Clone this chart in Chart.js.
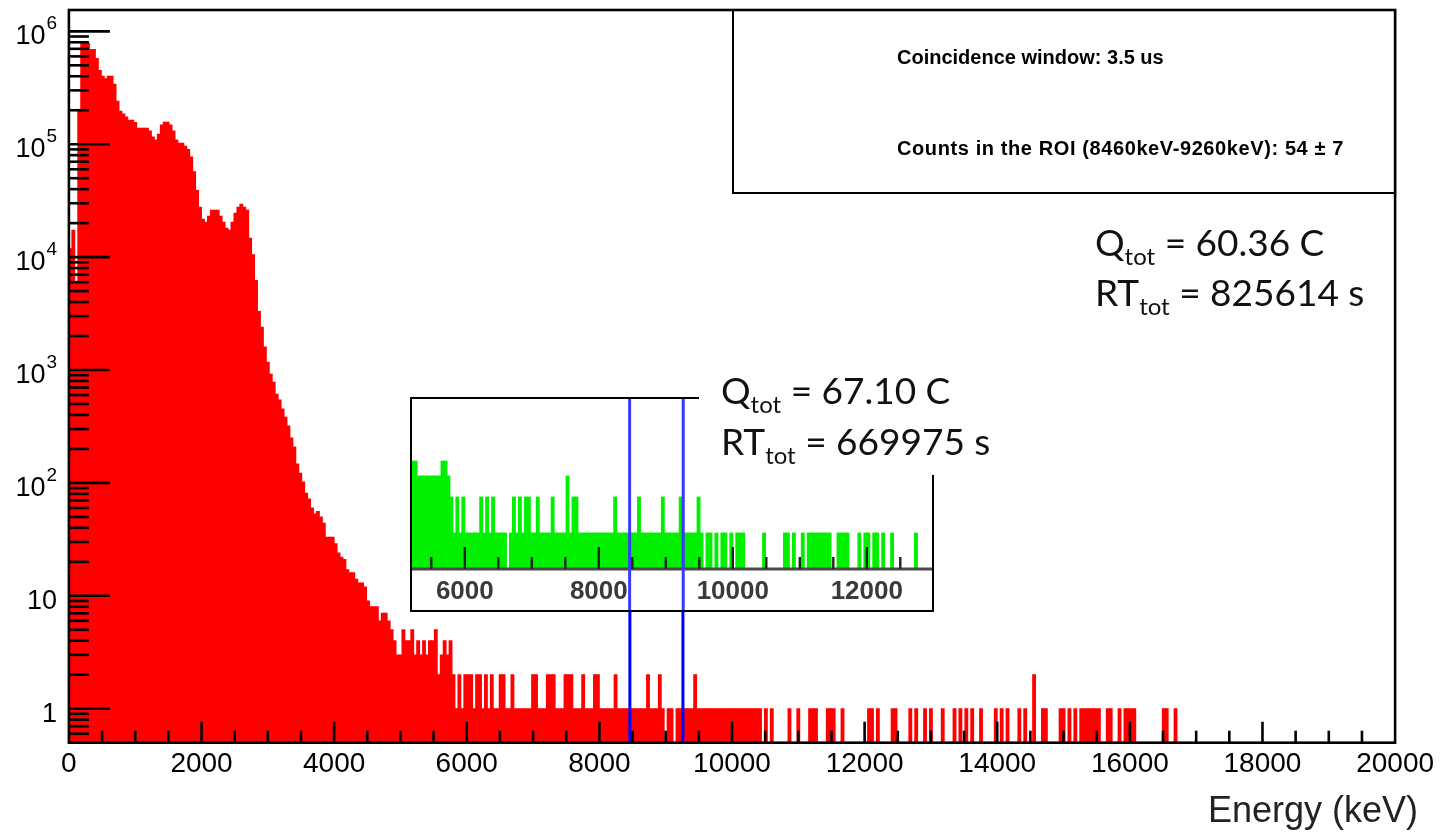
<!DOCTYPE html>
<html>
<head>
<meta charset="utf-8">
<title>Energy spectrum</title>
<script src="https://cdn.jsdelivr.net/npm/chart.js@4.4.1/dist/chart.umd.min.js"></script>
<style>
  html, body { margin: 0; padding: 0; background: #fff; }
  #wrap { position: relative; width: 1443px; height: 832px; overflow: hidden; }
  #main { position: absolute; left: 0; top: 0; }
  #inset { position: absolute; left: 405px; top: 360px; }
</style>
</head>
<body>
<div id="wrap">
  <canvas id="main" width="1443" height="832"></canvas>
  <canvas id="inset" width="600" height="260"></canvas>
</div>
<script>
// histogram: 450 bins from 0 to 20000 keV
const BIN_KEV = 20000 / 450;

// counts per bin, bins 0..119
const countsLow = [
  11900, 17300, 6000, 200000, 780000, 780000, 780000, 690000, 690000, 576000,
  450000, 400000, 380000, 400000, 400000, 340000, 240000, 196000, 185000, 174000,
  163000, 163000, 156000, 139000, 139000, 139000, 139000, 131000, 116000, 109000,
  123000, 148000, 157000, 157000, 148000, 131000, 109000, 102000, 102000, 96000,
  90000, 77000, 57000, 39000, 27700, 21700, 20400, 23000, 26000, 26000,
  26000, 23000, 20400, 18000, 17300, 20400, 24500, 27700, 29500, 27700,
  26000, 14700, 10500, 6200, 3300, 2400, 1600, 1175, 920, 780,
  612, 542, 451, 383, 319, 250, 208, 147, 122, 102,
  81, 72, 60, 53, 56, 50, 44, 33, 33, 33,
  29, 24, 22, 21, 17, 16, 16, 14, 13, 13,
  12, 9, 8, 8, 8, 6, 7, 7, 6, 5,
  4, 3, 3, 5, 4, 4, 5, 3, 4, 3
];

// counts per bin, bins 120..449
const countsTail = [
  4, 3, 4, 4, 5, 2, 3, 4, 3, 4,
  2, 1, 2, 1, 2, 2, 2, 1, 2, 2,
  1, 2, 1, 2, 1, 1, 2, 2, 1, 1,
  2, 1, 1, 1, 1, 1, 1, 2, 2, 1,
  1, 1, 2, 2, 2, 1, 1, 1, 2, 2,
  2, 1, 1, 1, 2, 1, 1, 1, 2, 2,
  1, 1, 1, 1, 1, 2, 1, 1, 1, 1,
  1, 1, 1, 1, 1, 1, 2, 1, 1, 1,
  2, 1, 0, 1, 1, 0, 1, 1, 1, 1,
  1, 1, 2, 1, 1, 1, 1, 1, 1, 1,
  1, 1, 1, 1, 1, 1, 1, 1, 1, 1,
  1, 1, 1, 1, 1, 0, 1, 0, 1, 0,
  0, 0, 0, 0, 1, 0, 0, 1, 0, 0,
  0, 1, 1, 1, 0, 0, 0, 1, 1, 1,
  0, 0, 1, 0, 0, 0, 0, 0, 0, 0,
  0, 1, 1, 0, 1, 0, 0, 0, 0, 1,
  1, 0, 0, 0, 0, 1, 0, 1, 0, 0,
  1, 0, 1, 0, 0, 0, 1, 0, 0, 0,
  1, 0, 1, 0, 1, 0, 1, 0, 0, 1,
  0, 0, 0, 0, 1, 0, 1, 0, 1, 0,
  0, 0, 1, 0, 1, 0, 0, 2, 0, 0,
  1, 1, 0, 0, 0, 0, 1, 1, 0, 1,
  0, 1, 0, 1, 1, 1, 1, 1, 1, 1,
  0, 0, 1, 1, 0, 0, 1, 0, 1, 1,
  1, 1, 0, 0, 0, 0, 0, 0, 0, 0,
  0, 1, 1, 0, 0, 1, 0, 0, 0, 0,
  0, 0, 0, 0, 0, 0, 0, 0, 0, 0,
  0, 0, 0, 0, 0, 0, 0, 0, 0, 0,
  0, 0, 0, 0, 0, 0, 0, 0, 0, 0,
  0, 0, 0, 0, 0, 0, 0, 0, 0, 0,
  0, 0, 0, 0, 0, 0, 0, 0, 0, 0,
  0, 0, 0, 0, 0, 0, 0, 0, 0, 0,
  0, 0, 0, 0, 0, 0, 0, 0, 0, 0
];

// inset (other run), counts per bin starting at bin 117
const insetFirstBin = 117;
const insetCounts = [
  4, 4, 3, 3, 3, 3, 3, 3, 3, 3,
  4, 4, 3, 2, 1, 2, 1, 2, 1, 1,
  1, 1, 1, 2, 1, 2, 1, 2, 1, 1,
  1, 1, 0, 1, 2, 1, 2, 1, 2, 2,
  1, 1, 2, 1, 1, 1, 1, 2, 1, 1,
  1, 1, 3, 1, 2, 2, 1, 1, 1, 1,
  1, 1, 1, 1, 1, 1, 1, 1, 2, 1,
  1, 1, 1, 1, 1, 1, 2, 1, 1, 1,
  1, 1, 1, 1, 2, 1, 1, 1, 1, 1,
  2, 1, 1, 1, 1, 1, 2, 1, 0, 1,
  1, 0, 1, 0, 1, 1, 0, 1, 0, 1,
  1, 1, 0, 0, 0, 0, 0, 0, 1, 0,
  0, 0, 0, 0, 0, 1, 1, 0, 1, 0,
  0, 1, 0, 1, 1, 1, 1, 1, 1, 1,
  1, 0, 0, 1, 1, 1, 1, 0, 0, 0,
  1, 0, 1, 1, 0, 1, 1, 0, 1, 0,
  0, 1, 0, 0, 0, 0, 0, 0, 0, 1,
  0, 0, 0, 0, 0
];

const xTickLabels = [0, 2000, 4000, 6000, 8000, 10000, 12000, 14000, 16000, 18000, 20000];
const insetTickLabels = [6000, 8000, 10000, 12000];
const yLabelValues = [1, 10, 100, 1000, 10000, 100000, 1000000];
const yLabelBase = ["1", "10", "10", "10", "10", "10", "10"];
const yLabelExp = ["", "", "2", "3", "4", "5", "6"];
const roiKeV = [8460, 9260];
const statLines = ["Coincidence window: 3.5 us", "Counts in the ROI (8460keV-9260keV): 54 \u00b1 7"];
const mainRun = [["Q", "tot", " = 60.36 C"], ["RT", "tot", " = 825614 s"]];
const insetRun = [["Q", "tot", " = 67.10 C"], ["RT", "tot", " = 669975 s"]];

const SANS = '"Liberation Sans", Arial, sans-serif';
const CAL = 'Lato, "Open Sans", sans-serif';

const counts = countsLow.concat(countsTail);
const spectrum = counts.map((c, i) => ({ x: (i + 0.5) * BIN_KEV, y: c }));
const insetSpectrum = insetCounts.map((c, k) => ({ x: (insetFirstBin + k + 0.5) * BIN_KEV, y: c }));

function line(ctx, x1, y1, x2, y2) {
  ctx.beginPath();
  ctx.moveTo(x1, y1);
  ctx.lineTo(x2, y2);
  ctx.stroke();
}

// "Q" + subscript "tot" + rest
function subText(ctx, x, y, parts, size) {
  ctx.textAlign = "left";
  ctx.textBaseline = "alphabetic";
  ctx.fillStyle = "#111";
  ctx.font = size + "px " + CAL;
  ctx.fillText(parts[0], x, y);
  let cx = x + ctx.measureText(parts[0]).width;
  ctx.font = Math.round(size * 0.66) + "px " + CAL;
  ctx.fillText(parts[1], cx, y + size * 0.25);
  cx += ctx.measureText(parts[1]).width;
  ctx.font = size + "px " + CAL;
  ctx.fillText(parts[2], cx, y);
}

const rootFrame = {
  id: "rootFrame",
  afterDraw(chart) {
    const { ctx, chartArea: a, scales } = chart;
    const x = scales.x, y = scales.y;
    ctx.save();

    // ROI lines
    ctx.strokeStyle = "#0000ff";
    ctx.lineWidth = 3;
    roiKeV.forEach((e) => {
      const px = x.getPixelForValue(e);
      line(ctx, px, 398, px, a.bottom);
    });

    // ticks (drawn inside, ROOT style)
    ctx.strokeStyle = "#000";
    ctx.lineWidth = 2.6;
    for (let e = 500; e < 20000; e += 500) {
      const px = x.getPixelForValue(e);
      const len = e % 2000 === 0 ? 21 : 12;
      line(ctx, px, a.bottom, px, a.bottom - len);
    }
    for (let d = -1; d <= 6; d++) {
      for (let m = 1; m <= 9; m++) {
        const v = m * Math.pow(10, d);
        if (v <= y.min || v >= y.max) continue;
        const py = y.getPixelForValue(v);
        line(ctx, a.left, py, a.left + (m === 1 ? 41 : 20), py);
      }
    }

    // frame
    ctx.lineWidth = 2.6;
    ctx.strokeRect(a.left, a.top, a.right - a.left, a.bottom - a.top);

    // y labels with exponents
    ctx.fillStyle = "#000";
    ctx.textBaseline = "alphabetic";
    ctx.textAlign = "right";
    yLabelValues.forEach((v, i) => {
      const py = y.getPixelForValue(v);
      let right = 57;
      if (yLabelExp[i]) {
        ctx.font = "19px " + SANS;
        ctx.fillText(yLabelExp[i], right, py - 2);
        right -= ctx.measureText(yLabelExp[i]).width + 1;
      }
      ctx.font = "27px " + SANS;
      ctx.fillText(yLabelBase[i], right, py + 13);
    });

    // axis title
    ctx.font = "36px " + SANS;
    ctx.fillStyle = "#222";
    ctx.textAlign = "right";
    ctx.fillText("Energy (keV)", 1418, 822);

    // stats box
    ctx.strokeStyle = "#000";
    ctx.lineWidth = 2;
    ctx.strokeRect(733, a.top, a.right - 733, 183);
    ctx.fillStyle = "#000";
    ctx.textAlign = "left";
    ctx.font = "bold 20px " + SANS;
    ctx.fillText(statLines[0], 897, 64);
    ctx.letterSpacing = "0.6px";
    ctx.fillText(statLines[1], 897, 155);
    ctx.letterSpacing = "0px";

    // run summary
    subText(ctx, 1095, 256, mainRun[0], 37);
    subText(ctx, 1095, 306, mainRun[1], 37);

    ctx.restore();
  }
};

new Chart(document.getElementById("main"), {
  type: "bar",
  data: {
    datasets: [{
      data: spectrum,
      backgroundColor: "#ff0000",
      borderWidth: 0,
      inflateAmount: 0.45,
      barPercentage: 1,
      categoryPercentage: 1
    }]
  },
  options: {
    responsive: false,
    animation: false,
    devicePixelRatio: 1,
    layout: { padding: { left: 0, right: 47.9, top: 10, bottom: 0 } },
    plugins: { legend: { display: false }, tooltip: { enabled: false } },
    scales: {
      x: {
        type: "linear",
        min: 0,
        max: 20000,
        offset: false,
        grid: { display: false },
        border: { display: false },
        afterBuildTicks: (s) => { s.ticks = xTickLabels.map((v) => ({ value: v })); },
        ticks: {
          autoSkip: false,
          maxRotation: 0,
          padding: -3,
          color: "#000",
          font: { family: SANS, size: 28 },
          callback: (v) => String(v)
        },
        afterFit: (s) => { s.height = 832 - 742.7; }
      },
      y: {
        type: "logarithmic",
        min: 0.5,
        max: 1.545e6,
        grid: { display: false },
        border: { display: false },
        ticks: { display: false },
        afterFit: (s) => { s.width = 68.9; }
      }
    }
  },
  plugins: [rootFrame]
});

// inset: pasted zoom of the other run
const insetDecor = {
  id: "insetDecor",
  beforeDraw(chart) {
    const ctx = chart.ctx;
    ctx.save();
    ctx.fillStyle = "#fff";
    ctx.fillRect(6, 38, 522, 213);
    ctx.restore();
  },
  afterDatasetsDraw(chart) {
    const { ctx, chartArea: a, scales } = chart;
    const x = scales.x;
    ctx.save();
    // axis line
    ctx.strokeStyle = "#4a4a4a";
    ctx.lineWidth = 3;
    line(ctx, 6, a.bottom, 528, a.bottom);
    // ticks
    ctx.strokeStyle = "#222";
    ctx.lineWidth = 2.4;
    for (let e = 5500; e <= 12500; e += 500) {
      const px = x.getPixelForValue(e);
      line(ctx, px, a.bottom, px, a.bottom - (e % 2000 === 0 ? 22 : 12));
    }
    // ROI lines
    ctx.strokeStyle = "#3838ff";
    ctx.lineWidth = 3;
    roiKeV.forEach((e) => {
      const px = x.getPixelForValue(e);
      line(ctx, px, 38, px, 251);
    });
    // frame
    ctx.strokeStyle = "#000";
    ctx.lineWidth = 2;
    ctx.strokeRect(6, 38, 522, 213);
    ctx.restore();
  },
  afterDraw(chart) {
    const ctx = chart.ctx;
    ctx.save();
    ctx.fillStyle = "#fff";
    ctx.fillRect(294, 0, 306, 115);
    subText(ctx, 316, 44, insetRun[0], 37);
    subText(ctx, 316, 95, insetRun[1], 37);
    ctx.restore();
  }
};

new Chart(document.getElementById("inset"), {
  type: "bar",
  data: {
    datasets: [{
      data: insetSpectrum,
      backgroundColor: "#00f000",
      borderWidth: 0,
      inflateAmount: 0.45,
      barPercentage: 1,
      categoryPercentage: 1
    }]
  },
  options: {
    responsive: false,
    animation: false,
    devicePixelRatio: 1,
    layout: { padding: { left: 6, right: 72, top: 38, bottom: 9 } },
    plugins: { legend: { display: false }, tooltip: { enabled: false } },
    scales: {
      x: {
        type: "linear",
        min: 5197,
        max: 12988,
        offset: false,
        grid: { display: false },
        border: { display: false },
        afterBuildTicks: (s) => { s.ticks = insetTickLabels.map((v) => ({ value: v })); },
        ticks: {
          autoSkip: false,
          maxRotation: 0,
          padding: -1,
          color: "#3a3a3a",
          font: { family: SANS, size: 26, weight: "bold" },
          callback: (v) => String(v)
        },
        afterFit: (s) => { s.height = 42; }
      },
      y: {
        type: "logarithmic",
        min: 0.5,
        max: 13.5,
        display: false
      }
    }
  },
  plugins: [insetDecor]
});
</script>
</body>
</html>
